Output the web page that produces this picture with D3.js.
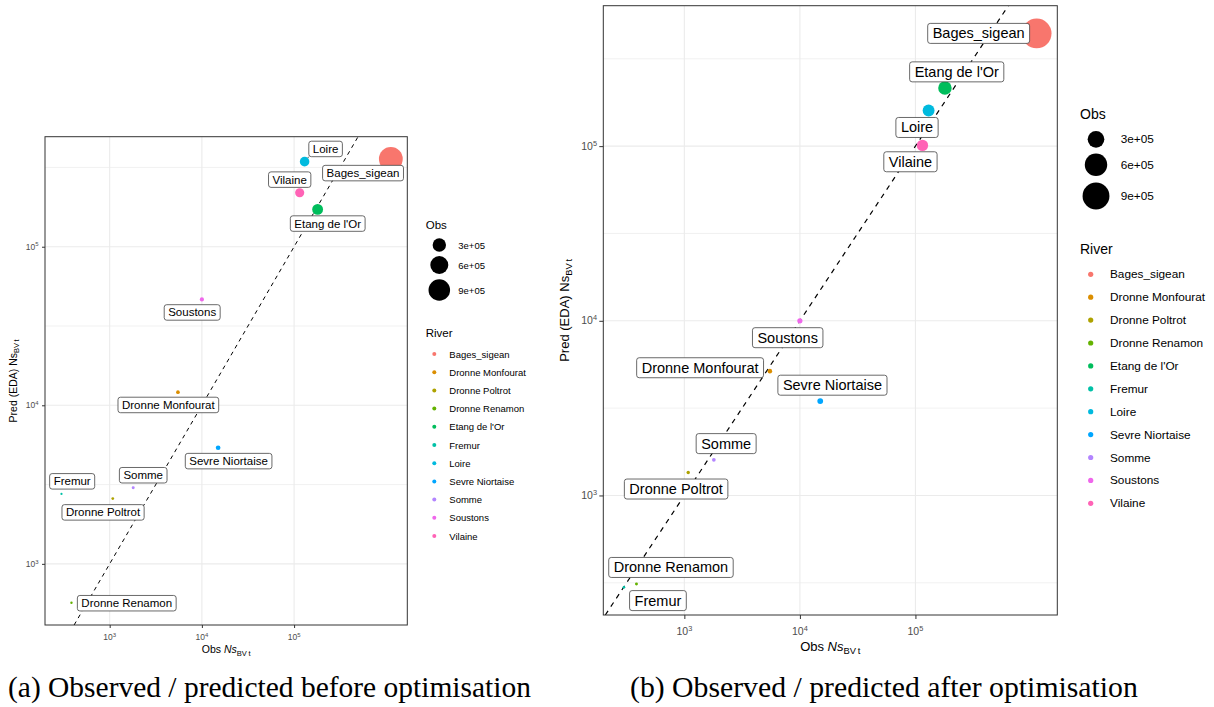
<!DOCTYPE html>
<html><head><meta charset="utf-8">
<script src="https://cdn.jsdelivr.net/npm/d3@7"></script>
<style>
body{margin:0;background:#fff}
svg{display:block}
text{font-family:"Liberation Sans",Arial,sans-serif}
text.caption{font-family:"Liberation Serif","Times New Roman",serif}
</style>
</head><body>
<svg id="c" width="1214" height="707"></svg>
<script>
// ---------------- data ----------------
const rivers = ["Bages_sigean","Dronne Monfourat","Dronne Poltrot","Dronne Renamon","Etang de l'Or","Fremur","Loire","Sevre Niortaise","Somme","Soustons","Vilaine"];
const obs        = [1120000, 5500, 1080, 385, 180000, 300, 130000, 15000, 1800, 10000, 115000];
const predBefore = [358000, 12100, 2580, 568, 172000, 2760, 344000, 5400, 3020, 46500, 219000];
const predAfter  = [442000, 5150, 1355, 311, 215000, 298, 160000, 3470, 1600, 10000, 101000];
const riverColors = ["#F8766D","#DB8E00","#AEA200","#64B200","#00BD5C","#00C1A7","#00BADE","#00A6FF","#B385FF","#EF67EB","#FF63B6"];
const sizeBreaks = [300000, 600000, 900000];
const sizeBreakLabels = ["3e+05","6e+05","9e+05"];
const axisTicks = [1e3, 1e4, 1e5];
const tickExponents = ["3","4","5"];
const captions = ["(a) Observed / predicted before optimisation", "(b) Observed / predicted after optimisation"];
const sizeTitle = "Obs", colorTitle = "River";

// ---------------- layout ----------------
const panels = [
  { pred: predBefore, x0:45, x1:407.3, y0:136.7, y1:625,
    sizeRange:[1.1, 11.9], fTick:8.5, fTitle:10.5, fLabel:11.5, fLegTitle:11.5, fLeg:9.5,
    tickLen:3, tickLabelY:637, tickLabelRight:38.5, xTitleY:650, yTitleX:13.5,
    dash:"4,4", dashW:1, labelPadX:4, labelH:15.5,
    offsets:{"Loire":[21,-12.7],"Bages_sigean":[-27.8,14.2],"Vilaine":[-10,-13.1],"Etang de l'Or":[10.1,14.2],
      "Soustons":[-9.7,13],"Dronne Monfourat":[-9.6,12.8],"Sevre Niortaise":[10.5,13.4],"Fremur":[10.7,-12.6],
      "Somme":[10,-12.5],"Dronne Poltrot":[-9.7,13.8],"Dronne Renamon":[55.3,0.4]},
    segments:["Loire"],
    legend:{titleX:425.7, obsTitleY:225, circX:439.3, circY:[245,265,290], circLabX:458.3,
      riverTitleY:333.3, dotX:434.3, dotR:2, itemX:449.3, itemY0:354, itemStep:18.2},
    caption:{x:8, y:697, w:523}
  },
  { pred: predAfter, x0:603.3, x1:1057.3, y0:5.7, y1:615,
    sizeRange:[1.35, 14.85], fTick:10.5, fTitle:13, fLabel:14.5, fLegTitle:14, fLeg:11.8,
    tickLen:4, tickLabelY:631.7, tickLabelRight:597, xTitleY:647.5, yTitleX:565,
    dash:"5,5", dashW:1.2, labelPadX:5, labelH:20,
    offsets:{"Bages_sigean":[-58,0],"Etang de l'Or":[11.8,-16.2],"Loire":[-11.6,17],"Vilaine":[-12,16.4],
      "Soustons":[-12.2,16.9],"Dronne Monfourat":[-69.8,-3.4],"Sevre Niortaise":[12.2,-15.9],"Somme":[12.3,-16.2],
      "Dronne Poltrot":[-12.1,16.6],"Dronne Renamon":[34.5,-16.6],"Fremur":[34,13.3]},
    segments:[],
    legend:{titleX:1080, obsTitleY:114, circX:1096, circY:[139.3,164.7,196], circLabX:1120.7,
      riverTitleY:249.3, dotX:1090.7, dotR:2.6, itemX:1110, itemY0:274.3, itemStep:22.9},
    caption:{x:630, y:697, w:508}
  }
];

const svg = d3.select("#c");
const obsMin = d3.min(obs), obsMax = d3.max(obs);

function logExpand(ext){
  const a = Math.log10(ext[0]), b = Math.log10(ext[1]), e = (b-a)*0.05;
  return [Math.pow(10,a-e), Math.pow(10,b+e)];
}

function titleText(sel, italic){
  sel.append("tspan").text(italic ? "Obs " : "Pred (EDA) ");
  sel.append("tspan").attr("font-style", italic ? "italic" : null).text("Ns");
  sel.append("tspan").attr("font-size","0.72em").attr("dy","0.32em").text("BV\u2009t");
}

panels.forEach((p, pi) => {
  const g = svg.append("g");
  const x = d3.scaleLog().domain(logExpand(d3.extent(obs))).range([p.x0, p.x1]);
  const y = d3.scaleLog().domain(logExpand(d3.extent(p.pred))).range([p.y1, p.y0]);
  const r = d3.scaleSqrt().domain([0, obsMax-obsMin]).range(p.sizeRange);
  const rad = v => r(Math.max(0, v-obsMin));

  const clipId = "clip"+pi;
  g.append("clipPath").attr("id",clipId).append("rect")
    .attr("x",p.x0).attr("y",p.y0).attr("width",p.x1-p.x0).attr("height",p.y1-p.y0);

  // minor horizontal grid (half decades)
  const yd = y.domain().map(Math.log10);
  const minors = d3.range(Math.floor(yd[0])-1, Math.ceil(yd[1])+1).map(k => Math.pow(10,k+0.5))
    .filter(v => v > y.domain()[0] && v < y.domain()[1]);
  g.selectAll(".ymin").data(minors).join("line")
    .attr("x1",p.x0).attr("x2",p.x1).attr("y1",d=>y(d)).attr("y2",d=>y(d))
    .attr("stroke","#EBEBEB").attr("stroke-width",0.7);
  g.selectAll(".ymaj").data(axisTicks).join("line")
    .attr("x1",p.x0).attr("x2",p.x1).attr("y1",d=>y(d)).attr("y2",d=>y(d))
    .attr("stroke","#EBEBEB").attr("stroke-width",1.1);
  g.selectAll(".xmaj").data(axisTicks).join("line")
    .attr("y1",p.y0).attr("y2",p.y1).attr("x1",d=>x(d)).attr("x2",d=>x(d))
    .attr("stroke","#EBEBEB").attr("stroke-width",1.1);

  // identity dashed line
  const lo = Math.max(x.domain()[0], y.domain()[0]), hi = Math.min(x.domain()[1], y.domain()[1]);
  g.append("line").attr("clip-path",`url(#${clipId})`)
    .attr("x1",x(lo)).attr("y1",y(lo)).attr("x2",x(hi)).attr("y2",y(hi))
    .attr("stroke","#000").attr("stroke-width",p.dashW).attr("stroke-dasharray",p.dash);

  // points
  const data = rivers.map((name,i)=>({name, obs:obs[i], pred:p.pred[i], color:riverColors[i]}));
  g.selectAll(".pt").data(data).join("circle")
    .attr("cx",d=>x(d.obs)).attr("cy",d=>y(d.pred)).attr("r",d=>rad(d.obs))
    .attr("fill",d=>d.color);

  // labels
  data.forEach(d => {
    const px = x(d.obs), py = y(d.pred);
    const off = p.offsets[d.name];
    const cx = px+off[0], cy = py+off[1];
    const lg = g.append("g");
    const t = lg.append("text").attr("x",cx).attr("y",cy).attr("text-anchor","middle")
      .attr("dominant-baseline","central").attr("font-size",p.fLabel).attr("fill","#000").text(d.name);
    const w = t.node().getComputedTextLength() + 2*p.labelPadX;
    const bx = cx-w/2, by = cy-p.labelH/2;
    if (p.segments.includes(d.name)) {
      const nx = Math.max(bx, Math.min(px, bx+w)), ny = Math.max(by, Math.min(py, by+p.labelH));
      const dist = Math.hypot(nx-px, ny-py), rr = rad(d.obs);
      g.insert("line", () => lg.node())
        .attr("x1", px+(nx-px)*rr/dist).attr("y1", py+(ny-py)*rr/dist).attr("x2",nx).attr("y2",ny)
        .attr("stroke","#222").attr("stroke-width",0.8);
    }
    lg.insert("rect","text").attr("x",bx).attr("y",by).attr("width",w).attr("height",p.labelH)
      .attr("rx",2.5).attr("fill","#fff").attr("stroke","#444").attr("stroke-width",0.8);
  });

  // border
  g.append("rect").attr("x",p.x0).attr("y",p.y0).attr("width",p.x1-p.x0).attr("height",p.y1-p.y0)
    .attr("fill","none").attr("stroke","#333").attr("stroke-width",1);

  // axes ticks via d3 axis
  const xa = g.append("g").attr("transform",`translate(0,${p.y1})`)
    .call(d3.axisBottom(x).tickValues(axisTicks).tickFormat("").tickSize(p.tickLen));
  const ya = g.append("g").attr("transform",`translate(${p.x0},0)`)
    .call(d3.axisLeft(y).tickValues(axisTicks).tickFormat("").tickSize(p.tickLen));
  [xa,ya].forEach(a => { a.select(".domain").remove(); a.selectAll("line").attr("stroke","#333"); });

  // tick labels with superscripts
  axisTicks.forEach((v,i) => {
    const tx = g.append("text").attr("x",x(v)).attr("y",p.tickLabelY+0.35*p.fTick)
      .attr("text-anchor","middle").attr("font-size",p.fTick).attr("fill","#4D4D4D");
    tx.append("tspan").text("10");
    tx.append("tspan").attr("font-size","0.7em").attr("dy","-0.55em").text(tickExponents[i]);
    const ty = g.append("text").attr("x",p.tickLabelRight).attr("y",y(v)+0.35*p.fTick)
      .attr("text-anchor","end").attr("font-size",p.fTick).attr("fill","#4D4D4D");
    ty.append("tspan").text("10");
    ty.append("tspan").attr("font-size","0.7em").attr("dy","-0.55em").text(tickExponents[i]);
  });

  // axis titles
  const xt = g.append("text").attr("x",(p.x0+p.x1)/2).attr("y",p.xTitleY+0.3*p.fTitle)
    .attr("text-anchor","middle").attr("font-size",p.fTitle).attr("fill","#000");
  titleText(xt, true);
  const ymid = (p.y0+p.y1)/2;
  const yt = g.append("text").attr("transform",`translate(${p.yTitleX+0.3*p.fTitle},${ymid}) rotate(-90)`)
    .attr("text-anchor","middle").attr("font-size",p.fTitle).attr("fill","#000");
  titleText(yt, false);

  // legends
  const L = p.legend;
  g.append("text").attr("x",L.titleX).attr("y",L.obsTitleY).attr("dominant-baseline","central")
    .attr("font-size",p.fLegTitle).text(sizeTitle);
  sizeBreaks.forEach((v,i) => {
    g.append("circle").attr("cx",L.circX).attr("cy",L.circY[i]).attr("r",rad(v)).attr("fill","#000");
    g.append("text").attr("x",L.circLabX).attr("y",L.circY[i]).attr("dominant-baseline","central")
      .attr("font-size",p.fLeg).text(sizeBreakLabels[i]);
  });
  g.append("text").attr("x",L.titleX).attr("y",L.riverTitleY).attr("dominant-baseline","central")
    .attr("font-size",p.fLegTitle).text(colorTitle);
  rivers.forEach((name,i) => {
    const yy = L.itemY0 + i*L.itemStep;
    g.append("circle").attr("cx",L.dotX).attr("cy",yy).attr("r",L.dotR).attr("fill",riverColors[i]);
    g.append("text").attr("x",L.itemX).attr("y",yy).attr("dominant-baseline","central")
      .attr("font-size",p.fLeg).text(name);
  });

  // caption
  const cap = svg.append("text").attr("class","caption").attr("x",p.caption.x).attr("y",p.caption.y)
    .attr("font-size",28).attr("fill","#000").text(captions[pi]);
  const cw = cap.node().getComputedTextLength();
  cap.attr("font-size", 28*p.caption.w/cw);
});
</script>
</body></html>
